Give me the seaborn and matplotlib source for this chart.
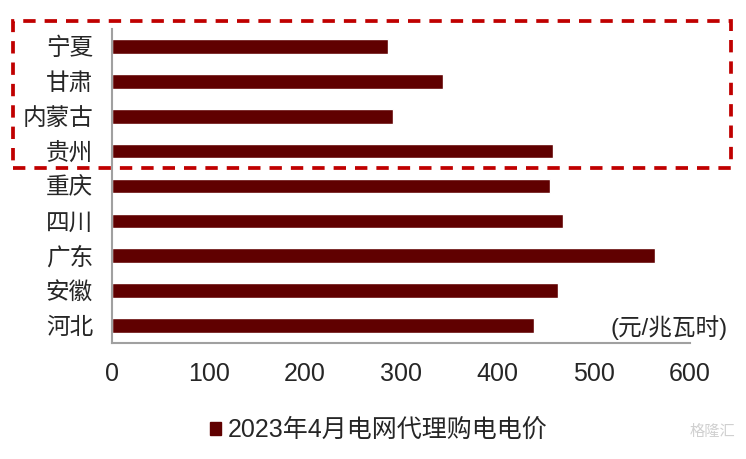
import matplotlib
matplotlib.use("Agg")
import matplotlib.pyplot as plt
import seaborn as sns
import pandas as pd
import numpy as np
from matplotlib.patches import Rectangle, Patch

categories = ["宁夏", "甘肃", "内蒙古", "贵州", "重庆", "四川", "广东", "安徽", "河北"]
values = [286, 343, 291, 458, 455, 468, 564, 463, 438]
series_name = "2023年4月电网代理购电电价"
unit_label = "(元/兆瓦时)"
x_ticks = [0, 100, 200, 300, 400, 500, 600]

sns.set_theme(style="white")
plt.rcParams['font.family'] = ['Liberation Sans', 'Noto Sans CJK SC', 'DejaVu Sans']

bar_color = "#600000"
grey = "#A0A0A0"

df = pd.DataFrame({"省份": categories, "价格": values})

W, H = 746, 459
fig = plt.figure(figsize=(W/100, H/100), dpi=100)
ax = fig.add_axes([112.5/W, 1-343/H, (690-112.5)/W, (343-29)/H])

sns.barplot(data=df, x="价格", y="省份", orient="h", color=bar_color,
            width=0.42, ax=ax, saturation=1)

ax.set_xlim(0, 600)
ax.set_ylim(len(categories)-0.5, -0.5)
ax.set_xlabel("")
ax.set_ylabel("")

ax.set_xticks(x_ticks)
ax.set_xticklabels([str(t) for t in x_ticks], fontsize=18)
ax.tick_params(axis='x', length=0, pad=14)

ax.set_yticks(range(len(categories)))
ax.set_yticklabels(categories, fontsize=17)
ax.tick_params(axis='y', which='major', length=0, pad=14)
ax.set_yticks(np.arange(-0.5, len(categories), 1.0), minor=True)
ax.tick_params(axis='y', which='minor', length=6, width=1.2, color=grey, direction='out')

for s in ["top", "right"]:
    ax.spines[s].set_visible(False)
for s in ["left", "bottom"]:
    ax.spines[s].set_color(grey)
    ax.spines[s].set_linewidth(1.5)

ax.text(728/W, 1-328/H, unit_label, transform=fig.transFigure,
        ha='right', va='center', fontsize=17)

# dashed highlight box
rect = Rectangle((13/W, 1-167.5/H), (731-13)/W, (167.5-21)/H,
                 transform=fig.transFigure, fill=False, edgecolor="#C00000",
                 linewidth=2.7, linestyle=(0, (3.3, 2.4)))
fig.patches.append(rect)

handle = Patch(facecolor=bar_color, edgecolor=bar_color)
fig.legend([handle], [series_name], loc='center', bbox_to_anchor=(379/W, 1-430/H),
           frameon=False, fontsize=18, handlelength=0.42, handleheight=0.42,
           handletextpad=0.3)

fig.text(712/W, 1-432/H, "格隆汇", fontsize=11, color="#D0D0D0",
         ha='center', va='center')

fig.savefig("out.png", dpi=100)
